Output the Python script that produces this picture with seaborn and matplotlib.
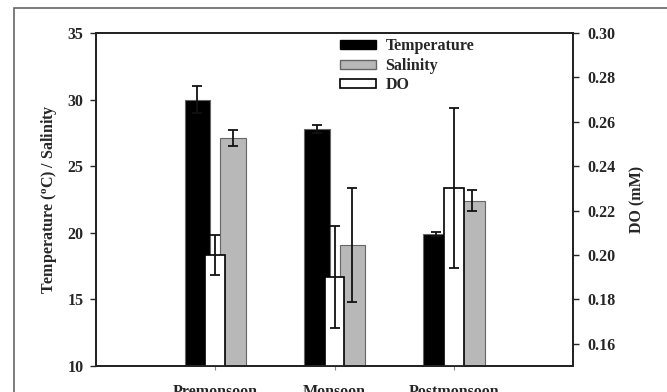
import matplotlib
matplotlib.use("Agg")
import matplotlib.pyplot as plt
import seaborn as sns
import pandas as pd
import numpy as np
from matplotlib.patches import Patch, Rectangle

# values
seasons = ['Premonsoon', 'Monsoon', 'Postmonsoon']
temperature = [30.0, 27.8, 19.9]
temperature_err = [1.0, 0.3, 0.15]
salinity = [27.1, 19.1, 22.4]
salinity_err = [0.6, 4.3, 0.8]
do_mM = [0.200, 0.190, 0.230]
do_err = [0.009, 0.023, 0.036]

sns.set_style("ticks")
plt.rcParams['font.family'] = ['Liberation Serif', 'DejaVu Serif']
plt.rcParams['font.weight'] = 'bold'
plt.rcParams['axes.labelweight'] = 'bold'
plt.rcParams['font.size'] = 11.5

fig = plt.figure(figsize=(6.67, 3.92), dpi=100)
ax = fig.add_axes([0.1439, 0.0663, 0.7155, 0.8495])

# temperature / salinity on the left axis
ts_df = pd.DataFrame({
    'season': seasons * 2,
    'value': temperature + salinity,
    'var': ['Temperature'] * 3 + ['Salinity'] * 3,
})
sns.barplot(data=ts_df, x='season', y='value', hue='var', order=seasons,
            palette=['black', '#b8b8b8'], width=0.6, gap=0.28,
            errorbar=None, edgecolor='#666666', linewidth=0.8,
            legend=False, ax=ax)

bars = ax.patches
centers = np.array([p.get_x() + p.get_width() / 2 for p in bars])
heights = np.array([p.get_height() for p in bars])
errs = np.array(temperature_err + salinity_err)
ax.errorbar(centers, heights, yerr=errs, fmt='none', ecolor='#111111',
            elinewidth=1.3, capsize=3.5, capthick=1.3, zorder=5)

ax.set_ylim(10, 35)
ax.set_yticks(np.arange(10, 36, 5))
ax.set_ylabel('Temperature ($\\mathregular{^o}$C) / Salinity', labelpad=6)
ax.set_xlabel('')

# DO on the right axis
ax2 = ax.twinx()
do_df = pd.DataFrame({'season': seasons, 'DO': do_mM})
sns.barplot(data=do_df, x='season', y='DO', order=seasons, color='white',
            width=0.165, errorbar=None, edgecolor='black', linewidth=1.2,
            ax=ax2)
do_bars = ax2.patches
do_centers = [p.get_x() + p.get_width() / 2 for p in do_bars]
ax2.errorbar(do_centers, do_mM, yerr=do_err, fmt='none', ecolor='#111111',
             elinewidth=1.3, capsize=3.5, capthick=1.3, zorder=5)
ax2.set_ylim(0.15, 0.30)
ax2.set_yticks(np.arange(0.16, 0.301, 0.02))
ax2.set_yticklabels([f'{v:.2f}' for v in np.arange(0.16, 0.301, 0.02)])
ax2.set_ylabel('DO (mM)', labelpad=10)
ax2.set_xlabel('')

for a in (ax, ax2):
    a.set_xlim(-1, 3)
    for s in a.spines.values():
        s.set_linewidth(1.3)
        s.set_color('#222222')

ax.tick_params(axis='y', length=4, width=1.0, pad=5, labelsize=11.5)
ax2.tick_params(axis='y', length=4, width=1.0, pad=6, labelsize=11.5)
ax.tick_params(axis='x', length=3, width=0.8, color='#888888', pad=10,
               labelsize=11.5)
ax2.tick_params(axis='x', bottom=False, labelbottom=False)

handles = [Patch(facecolor='black', edgecolor='black', label='Temperature'),
           Patch(facecolor='#b8b8b8', edgecolor='#666666', label='Salinity'),
           Patch(facecolor='white', edgecolor='black', linewidth=1.2, label='DO')]
ax2.legend(handles=handles, loc='upper left', bbox_to_anchor=(0.498, 1.003),
           frameon=False, handlelength=2.25, handleheight=0.5,
           handletextpad=0.6, labelspacing=0.22, borderaxespad=0.0,
           prop={'weight': 'bold', 'size': 11.5})

# outer frame around the figure
fig.add_artist(Rectangle((14 / 667, -0.1), 1.2, 1.1 - 8 / 392, fill=False,
                         edgecolor='#666666', linewidth=1.2,
                         transform=fig.transFigure))

fig.savefig('out.png', dpi=100)
